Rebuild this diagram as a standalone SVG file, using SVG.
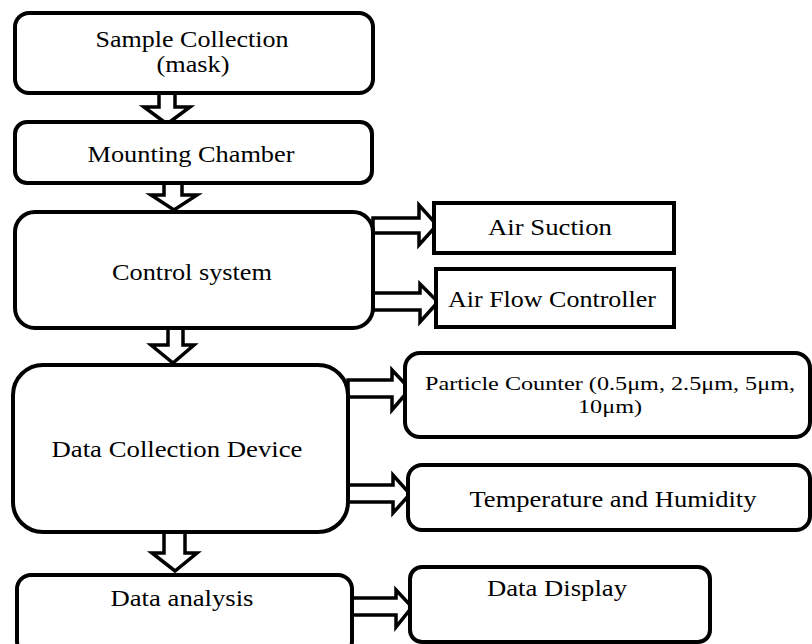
<svg xmlns="http://www.w3.org/2000/svg" width="812" height="644" viewBox="0 0 812 644">
<style>
.box{fill:#fff;stroke:#000;stroke-width:4}
.arr{fill:#fff;stroke:#000;stroke-width:3.5;stroke-linejoin:miter}
text{font-family:"Liberation Serif","Times New Roman",serif;fill:#000;text-anchor:middle}
.t{font-size:23px}
.s{font-size:19px}
</style>
<rect width="812" height="644" fill="#fff"/>
<g id="connectors">
<polygon class="arr" points="159,93 175,93 175,107 190,107 167,124 144,107 159,107"/>
<polygon class="arr" points="164,183 182,183 182,195 197,195 174,210 151,195 164,195"/>
<polygon class="arr" points="168,328 183,328 183,345 194,345 173,363 151,345 168,345"/>
<polygon class="arr" points="164,532 185,532 185,553 197,553 175,571 152,553 164,553"/>
<polygon class="arr" points="373,218 419,218 419,205 437,225 419,245 419,233 373,233"/>
<polygon class="arr" points="373,293 420,293 420,284 438,302 420,322 420,310 373,310"/>
<polygon class="arr" points="348,380 392,380 392,370 410,389 392,410 392,397 348,397"/>
<polygon class="arr" points="347,485 393,485 393,475 410,494 393,513 393,502 347,502"/>
<polygon class="arr" points="352,598 396,598 396,590 412,607 396,627 396,615 352,615"/>
</g>
<g id="sample-collection">
<rect class="box" x="15" y="13" width="358" height="80" rx="14"/>
<text class="t" x="192" y="47" textLength="193" lengthAdjust="spacingAndGlyphs">Sample Collection</text>
<text class="t" x="193" y="72" textLength="73" lengthAdjust="spacingAndGlyphs">(mask)</text>
</g>
<g id="mounting-chamber">
<rect class="box" x="15" y="122" width="357" height="61" rx="12"/>
<text class="t" x="191" y="162" textLength="207" lengthAdjust="spacingAndGlyphs">Mounting Chamber</text>
</g>
<g id="control-system">
<rect class="box" x="15" y="212" width="358" height="116" rx="20"/>
<text class="t" x="192" y="280" textLength="160" lengthAdjust="spacingAndGlyphs">Control system</text>
</g>
<g id="air-suction">
<rect class="box" x="434" y="203" width="240" height="50"/>
<text class="t" x="550" y="235" textLength="124" lengthAdjust="spacingAndGlyphs">Air Suction</text>
</g>
<g id="air-flow-controller">
<rect class="box" x="436" y="269" width="238" height="58"/>
<text class="t" x="552" y="307" textLength="208" lengthAdjust="spacingAndGlyphs">Air Flow Controller</text>
</g>
<g id="data-collection-device">
<rect class="box" x="13" y="365" width="335" height="167" rx="30"/>
<text class="t" x="177" y="457" textLength="251" lengthAdjust="spacingAndGlyphs">Data Collection Device</text>
</g>
<g id="particle-counter">
<rect class="box" x="405" y="353" width="405" height="84" rx="15"/>
<text class="s" x="610" y="390" textLength="370" lengthAdjust="spacingAndGlyphs">Particle Counter (0.5μm, 2.5μm, 5μm,</text>
<text class="s" x="610" y="413" textLength="64" lengthAdjust="spacingAndGlyphs">10μm)</text>
</g>
<g id="temperature-humidity">
<rect class="box" x="408" y="465" width="402" height="65" rx="14"/>
<text class="t" x="613" y="507" textLength="287" lengthAdjust="spacingAndGlyphs">Temperature and Humidity</text>
</g>
<g id="data-analysis">
<rect class="box" x="17" y="575" width="335" height="80" rx="14"/>
<text class="t" x="182" y="606" textLength="143" lengthAdjust="spacingAndGlyphs">Data analysis</text>
</g>
<g id="data-display">
<rect class="box" x="410" y="567" width="300" height="75" rx="12"/>
<text class="t" x="557" y="596" textLength="140" lengthAdjust="spacingAndGlyphs">Data Display</text>
</g>
</svg>
